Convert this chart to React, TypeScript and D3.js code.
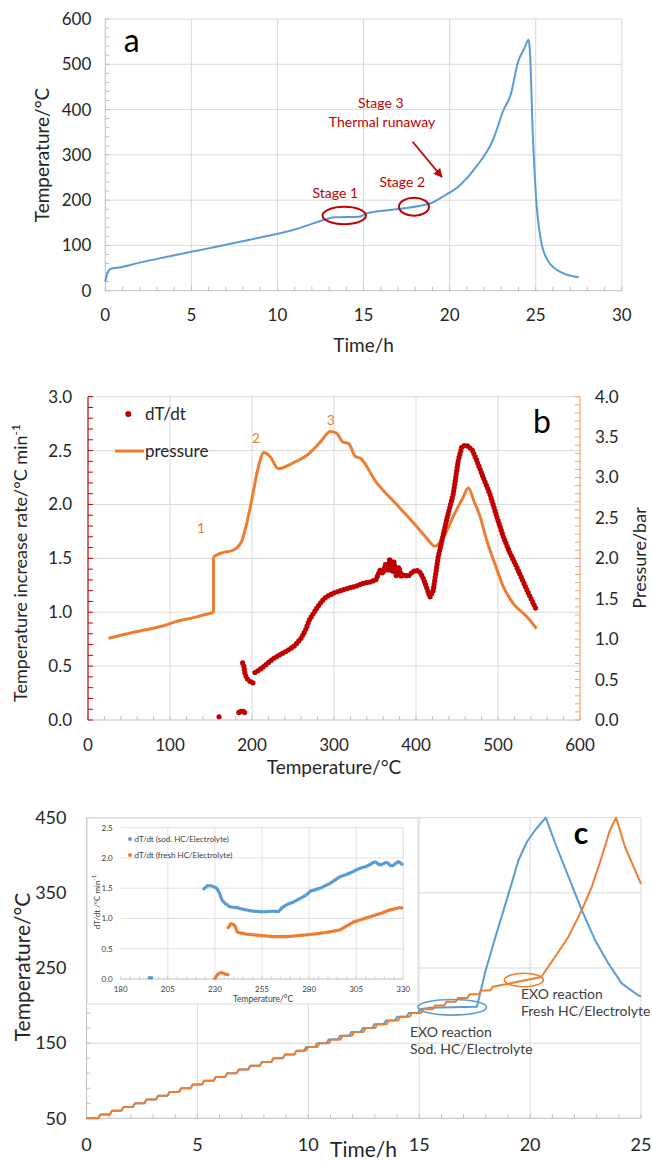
import React from "react";
import * as d3 from "d3";

const FONT = "Lato, 'Noto Sans', sans-serif";
const TXT = "#262626";
const GRID = "#d9d9d9";
const AXIS = "#bfbfbf";
const BLUE = "#5b9bd5";
const ORANGE = "#ed7d31";
const RED = "#c00000";

// ---- panel a: temperature vs time ----
const aTime = [0, 0.1, 0.3, 0.9, 2, 3.6, 6, 8.45, 10.9, 12.7, 13.3, 14.75, 15.2, 16.9, 18.9, 19.6, 20.6, 21.55, 22.52, 23.13, 23.54, 23.98, 24.34, 24.59, 24.66, 24.83, 25.03, 25.3, 25.68, 26.4, 27.5];
const aTemp = [20, 36, 48, 52, 62, 75, 93.5, 113, 134, 156, 162, 163.5, 171, 180, 193, 207.6, 233, 274, 333, 399, 432, 506, 535, 554, 531, 347, 200, 112, 68, 42, 29.5];

// ---- panel b: pressure and dT/dt vs temperature ----
const pressT = [25, 45, 67, 90, 108, 130, 153, 153, 161, 177, 187.4, 193.5, 199.6, 207.7, 214.6, 222, 232, 250, 270, 285, 295.4, 303, 310.7, 318, 326, 332, 351, 377, 402, 413, 423, 433, 445.5, 457.7, 463.8, 471, 478, 486, 496, 506.5, 518.7, 535, 547];
const pressBar = [1.01, 1.06, 1.11, 1.16, 1.22, 1.27, 1.33, 2.02, 2.06, 2.10, 2.21, 2.43, 2.72, 3.13, 3.31, 3.26, 3.11, 3.18, 3.30, 3.46, 3.57, 3.55, 3.44, 3.42, 3.26, 3.24, 2.95, 2.66, 2.38, 2.25, 2.15, 2.25, 2.52, 2.76, 2.87, 2.70, 2.52, 2.23, 1.94, 1.65, 1.44, 1.28, 1.13];

const rateIsoT = [159.8, 184, 186.5, 189, 191];
const rateIsoV = [0.03, 0.07, 0.08, 0.08, 0.07];
const rate1T = [188.6, 190, 191.5, 193.5, 195.5, 199, 203.6];
const rate1V = [0.53, 0.5, 0.43, 0.39, 0.37, 0.35, 0.34];
const rate2T = [203.6, 210, 218, 226, 235, 244.5, 252, 260, 265, 270, 275, 280, 285, 290, 300, 308, 316, 326, 336, 344, 351, 356, 360, 363, 366, 368, 371, 373, 376, 379, 382, 386, 390, 395, 400, 404, 408, 412, 417, 421, 427, 437.4, 445.5, 451.6, 455.7, 459.8, 464, 469, 474, 482, 490, 498, 506.5, 514, 522.8, 535, 547];
const rate2V = [0.44, 0.47, 0.52, 0.57, 0.61, 0.65, 0.69, 0.76, 0.83, 0.93, 0.99, 1.05, 1.1, 1.14, 1.18, 1.2, 1.22, 1.24, 1.27, 1.28, 1.30, 1.39, 1.36, 1.45, 1.38, 1.50, 1.37, 1.47, 1.33, 1.42, 1.33, 1.35, 1.33, 1.37, 1.39, 1.38, 1.33, 1.25, 1.14, 1.2, 1.51, 1.86, 2.10, 2.41, 2.53, 2.55, 2.54, 2.50, 2.41, 2.25, 2.10, 1.90, 1.70, 1.56, 1.42, 1.21, 1.02];

// ---- panel c: staircase heating, sodiated vs fresh HC ----
const cStepTemp = [50, 55, 60, 65, 70, 75, 80, 85, 90, 95, 100, 105, 110, 115, 120, 125, 130, 135, 140, 145, 150, 155, 160, 165, 170, 175, 180, 185, 190, 195, 200, 205, 210, 215, 220, 225];
const cFreshStepTime = [0, 0.53, 1.05, 1.57, 2.09, 2.61, 3.13, 3.65, 4.17, 4.69, 5.21, 5.73, 6.25, 6.77, 7.29, 7.81, 8.33, 8.85, 9.37, 9.89, 10.41, 10.93, 11.45, 11.97, 12.49, 13.01, 13.53, 14.05, 14.57, 15.09, 15.61, 16.13, 16.65, 17.17, 17.69, 18.21];
const cSodStepTime = [0, 0.53, 1.05, 1.57, 2.09, 2.61, 3.13, 3.65, 4.17, 4.69, 5.21, 5.73, 6.25, 6.77, 7.29, 7.81, 8.33, 8.85, 9.37, 9.80, 10.30, 10.82, 11.33, 11.85, 12.36, 12.88, 13.40, 13.91, 14.43, 14.94];
const cFreshTailTime = [18.85, 19.5, 20.5, 21.13, 21.73, 22.33, 22.78, 23.23, 23.6, 23.88, 24.28, 25];
const cFreshTailTemp = [228, 232, 238, 265, 291.6, 327, 358, 398, 433.6, 450, 411, 362];
const cSodTailTime = [15.5, 17.6, 18.0, 18.44, 19.03, 19.48, 19.86, 20.23, 20.71, 21.13, 21.73, 22.33, 22.93, 23.53, 24.13, 24.85, 25];
const cSodTailTemp = [197, 198.5, 247, 291.6, 349, 393.7, 418, 433.6, 450, 416, 371.5, 327, 287, 256, 229.6, 214, 212];

// ---- inset: dT/dt vs temperature ----
const insSodIsoT = [195.2, 197.3];
const insSodIsoV = [0.02, 0.02];
const insSodT = [224.2, 226, 228.3, 231, 232.7, 233.6, 235.4, 238, 241.6, 245.1, 250.4, 255.7, 261, 263.7, 265.4, 268.1, 271.6, 275.2, 278.7, 280.5, 285.8, 291.1, 296.4, 301.7, 307, 310.5, 315, 317.6, 321.2, 323.8, 327.4, 330];
const insSodV = [1.49, 1.54, 1.54, 1.50, 1.40, 1.31, 1.25, 1.19, 1.18, 1.15, 1.12, 1.11, 1.12, 1.11, 1.17, 1.23, 1.27, 1.33, 1.39, 1.45, 1.50, 1.58, 1.69, 1.75, 1.83, 1.86, 1.94, 1.88, 1.93, 1.86, 1.94, 1.88];
const insFreshLowT = [230, 231.8, 233.6, 235.4, 237.1];
const insFreshLowV = [0.01, 0.09, 0.11, 0.08, 0.07];
const insFreshT = [237.1, 238.6, 240.7, 241.9, 246.9, 253.9, 261, 268.1, 275.2, 282.2, 289.3, 296.4, 299, 303.5, 310.5, 317.6, 322.9, 328.2, 330];
const insFreshV = [0.85, 0.92, 0.88, 0.77, 0.74, 0.72, 0.70, 0.70, 0.72, 0.74, 0.77, 0.81, 0.86, 0.94, 1.01, 1.08, 1.14, 1.18, 1.17];

const zip = (xs: number[], ys: number[]) => xs.map((v, i) => [v, ys[i]] as [number, number]);

function stairs(times: number[], temps: number[], tailT: number[], tailY: number[]) {
  const pts: [number, number][] = [[times[0], temps[0]]];
  for (let i = 1; i < times.length; i++) {
    pts.push([times[i], temps[i - 1]]);
    pts.push([times[i] + 0.1, temps[i]]);
  }
  return pts.concat(zip(tailT, tailY));
}

function PanelA() {
  const x = d3.scaleLinear().domain([0, 30]).range([105.3, 621.8]);
  const y = d3.scaleLinear().domain([0, 600]).range([290.7, 19]);
  const line = d3.line<[number, number]>().x(d => x(d[0])).y(d => y(d[1])).curve(d3.curveMonotoneX);
  const [x0, x1] = x.range();
  const [y0, y1] = y.range();
  return (
    <g>
      {d3.range(5, 31, 5).map(v => <line key={"vx" + v} x1={x(v)} x2={x(v)} y1={y0} y2={y1} stroke={GRID} />)}
      {d3.range(100, 601, 100).map(v => <line key={"hy" + v} x1={x0} x2={x1} y1={y(v)} y2={y(v)} stroke={GRID} />)}
      <line x1={x0} x2={x0} y1={y0} y2={y1} stroke={AXIS} />
      <line x1={x0} x2={x1} y1={y0} y2={y0} stroke={AXIS} />
      {d3.range(0, 31, 1).map(v => <line key={"mx" + v} x1={x(v)} x2={x(v)} y1={y0} y2={y0 - 4} stroke={AXIS} />)}
      {d3.range(0, 601, 20).map(v => <line key={"my" + v} x1={x0} x2={x0 + 4} y1={y(v)} y2={y(v)} stroke={AXIS} />)}
      {d3.range(0, 601, 100).map(v => <text key={"ly" + v} x={x0 - 14} y={y(v)} dy="0.35em" textAnchor="end" fontSize={17} fill={TXT}>{v}</text>)}
      {d3.range(0, 31, 5).map(v => <text key={"lx" + v} x={x(v)} y={321} textAnchor="middle" fontSize={17} fill={TXT}>{v}</text>)}
      <text x={363.6} y={352} textAnchor="middle" fontSize={19} fill={TXT}>Time/h</text>
      <text transform="translate(42,155) rotate(-90)" textAnchor="middle" dy="0.35em" fontSize={19} fill={TXT}>Temperature/°C</text>
      <text x={131.6} y={52} textAnchor="middle" fontSize={32} fill="#000">a</text>
      <path d={line(zip(aTime, aTemp)) || ""} fill="none" stroke={BLUE} strokeWidth={2} />
      <ellipse cx={x(13.88)} cy={y(166)} rx={21.7} ry={8.7} fill="none" stroke={RED} strokeWidth={2} />
      <ellipse cx={x(17.93)} cy={y(185.5)} rx={15} ry={9} fill="none" stroke={RED} strokeWidth={2} />
      <text x={x(13.36)} y={y(215)} dy="0.35em" textAnchor="middle" fontSize={14} fill={RED}>Stage 1</text>
      <text x={x(17.25)} y={y(239)} dy="0.35em" textAnchor="middle" fontSize={14} fill={RED}>Stage 2</text>
      <text x={x(16.0)} y={y(414)} dy="0.35em" textAnchor="middle" fontSize={14} fill={RED}>Stage 3</text>
      <text x={x(16.07)} y={y(372)} dy="0.35em" textAnchor="middle" fontSize={14} fill={RED}>Thermal runaway</text>
      <line x1={x(17.85)} y1={y(329)} x2={x(19.55)} y2={y(251)} stroke={RED} strokeWidth={1.8} markerEnd="url(#arrowRed)" />
    </g>
  );
}

function PanelB() {
  const x = d3.scaleLinear().domain([0, 600]).range([88, 580]);
  const yL = d3.scaleLinear().domain([0, 3]).range([720, 396.7]);
  const yR = d3.scaleLinear().domain([0, 4]).range([720, 396.7]);
  const [x0, x1] = x.range();
  const [y0, y1] = yL.range();
  const pLine = d3.line<[number, number]>().x(d => x(d[0])).y(d => yR(d[1])).curve(d3.curveMonotoneX);
  const rLine = d3.line<[number, number]>().x(d => x(d[0])).y(d => yL(d[1]));
  const f1 = d3.format(".1f");
  const dotStyle = { fill: "none", stroke: RED, strokeWidth: 5.2, strokeLinecap: "round" as const, strokeDasharray: "0 3.4" };
  // split pressure trace at the vertical jump (repeated temperature)
  const pts = zip(pressT, pressBar);
  const jump = pts.findIndex((d, i) => i > 0 && d[0] === pts[i - 1][0]);
  const before = pts.slice(0, jump);
  const after = pts.slice(jump);
  return (
    <g>
      {d3.range(100, 501, 100).map(v => <line key={"vx" + v} x1={x(v)} x2={x(v)} y1={y0} y2={y1} stroke={GRID} />)}
      {d3.range(0.5, 3.01, 0.5).map(v => <line key={"hy" + v} x1={x0} x2={x1} y1={yL(v)} y2={yL(v)} stroke={GRID} />)}
      <line x1={x0} x2={x1} y1={y0} y2={y0} stroke={AXIS} />
      {d3.range(0, 601, 20).map(v => <line key={"mx" + v} x1={x(v)} x2={x(v)} y1={y0} y2={y0 - 4} stroke={AXIS} />)}
      <line x1={x0} x2={x0} y1={y0} y2={y1} stroke={RED} strokeWidth={1.2} />
      {d3.range(0, 31, 1).map(v => <line key={"ml" + v} x1={x0} x2={x0 + 5} y1={yL(v / 10)} y2={yL(v / 10)} stroke={RED} />)}
      <line x1={x1} x2={x1} y1={y0} y2={y1} stroke="#f4a46e" strokeWidth={1.2} />
      {d3.range(0, 41, 1).map(v => <line key={"mr" + v} x1={x1} x2={x1 - 5} y1={yR(v / 10)} y2={yR(v / 10)} stroke="#f4a46e" />)}
      {d3.range(0, 7, 1).map(v => <text key={"ll" + v} x={x0 - 16} y={yL(v / 2)} dy="0.35em" textAnchor="end" fontSize={17} fill={TXT}>{f1(v / 2)}</text>)}
      {d3.range(0, 9, 1).map(v => <text key={"lr" + v} x={x1 + 15} y={yR(v / 2)} dy="0.35em" textAnchor="start" fontSize={17} fill={TXT}>{f1(v / 2)}</text>)}
      {d3.range(0, 601, 100).map(v => <text key={"lx" + v} x={x(v)} y={751} textAnchor="middle" fontSize={17} fill={TXT}>{v}</text>)}
      <text x={334} y={774} textAnchor="middle" fontSize={19} fill={TXT}>Temperature/°C</text>
      <text transform="translate(21,563) rotate(-90)" textAnchor="middle" dy="0.35em" fontSize={18} fill={TXT}>
        Temperature increase rate/°C min<tspan dy="-7" fontSize={12}>-1</tspan>
      </text>
      <text transform="translate(640,558) rotate(-90)" textAnchor="middle" dy="0.35em" fontSize={18} fill={TXT}>Pressure/bar</text>
      <path d={(pLine(before) || "") + (pLine([before[before.length - 1], after[0]]) || "") + (pLine(after) || "")}
        fill="none" stroke={ORANGE} strokeWidth={3} strokeLinejoin="round" />
      <path d={rLine(zip(rate1T, rate1V)) || ""} {...dotStyle} />
      <path d={rLine(zip(rate2T, rate2V)) || ""} {...dotStyle} />
      {zip(rateIsoT, rateIsoV).map((d, i) => <circle key={"iso" + i} cx={x(d[0])} cy={yL(d[1])} r={2.6} fill={RED} />)}
      <text x={x(138)} y={yR(2.38)} dy="0.35em" textAnchor="middle" fontSize={14} fill={ORANGE}>1</text>
      <text x={x(205)} y={yR(3.49)} dy="0.35em" textAnchor="middle" fontSize={14} fill={ORANGE}>2</text>
      <text x={x(296)} y={yR(3.71)} dy="0.35em" textAnchor="middle" fontSize={14} fill={ORANGE}>3</text>
      <circle cx={128.3} cy={414} r={3} fill={RED} />
      <text x={145} y={414} dy="0.35em" fontSize={17} fill={TXT}>dT/dt</text>
      <line x1={115} x2={144} y1={451} y2={451} stroke={ORANGE} strokeWidth={3} />
      <text x={145} y={451} dy="0.35em" fontSize={17} fill={TXT}>pressure</text>
      <text x={542} y={433} textAnchor="middle" fontSize={32} fill="#000">b</text>
    </g>
  );
}

function Inset() {
  const x = d3.scaleLinear().domain([180, 330]).range([120.7, 403.3]);
  const y = d3.scaleLinear().domain([0, 2.5]).range([979, 827.7]);
  const [x0, x1] = x.range();
  const [y0, y1] = y.range();
  const line = d3.line<[number, number]>().x(d => x(d[0])).y(d => y(d[1]));
  const f1 = d3.format(".1f");
  const dots = (c: string) => ({ fill: "none", stroke: c, strokeWidth: 3.6, strokeLinecap: "round" as const, strokeDasharray: "0 2.3" });
  return (
    <g>
      <rect x={87} y={818} width={331} height={186} fill="#fff" stroke={GRID} />
      {d3.range(205, 331, 25).map(v => <line key={"vx" + v} x1={x(v)} x2={x(v)} y1={y0} y2={y1} stroke={GRID} strokeWidth={0.8} />)}
      {d3.range(0.5, 2.51, 0.5).map(v => <line key={"hy" + v} x1={x0} x2={x1} y1={y(v)} y2={y(v)} stroke={GRID} strokeWidth={0.8} />)}
      <line x1={x0} x2={x1} y1={y0} y2={y0} stroke={AXIS} />
      {d3.range(180, 331, 5).map(v => <line key={"mx" + v} x1={x(v)} x2={x(v)} y1={y0} y2={y0 - 2.5} stroke={AXIS} strokeWidth={0.8} />)}
      {d3.range(0, 6, 1).map(v => <text key={"ly" + v} x={x0 - 8} y={y(v / 2)} dy="0.35em" textAnchor="end" fontSize={8} fill="#404040">{f1(v / 2)}</text>)}
      {d3.range(180, 331, 25).map(v => <text key={"lx" + v} x={x(v)} y={992} textAnchor="middle" fontSize={8} fill="#404040">{v}</text>)}
      <text x={263} y={1001.5} textAnchor="middle" fontSize={8.5} fill="#404040">Temperature/°C</text>
      <text transform="translate(97,902) rotate(-90)" textAnchor="middle" dy="0.35em" fontSize={8} fill="#404040">
        dT/dt /°C min<tspan dy="-4" fontSize={6}>-1</tspan>
      </text>
      <path d={line(zip(insSodT, insSodV)) || ""} {...dots(BLUE)} />
      <path d={line(zip(insSodIsoT, insSodIsoV)) || ""} {...dots(BLUE)} />
      <path d={line(zip(insFreshLowT, insFreshLowV)) || ""} {...dots(ORANGE)} />
      <path d={line(zip(insFreshT, insFreshV)) || ""} {...dots(ORANGE)} />
      <circle cx={130} cy={839} r={2} fill={BLUE} />
      <text x={134.5} y={839} dy="0.35em" fontSize={8} fill="#404040">dT/dt (sod. HC/Electrolyte)</text>
      <circle cx={130} cy={855} r={2} fill={ORANGE} />
      <text x={134.5} y={855} dy="0.35em" fontSize={8} fill="#404040">dT/dt (fresh HC/Electrolyte)</text>
    </g>
  );
}

function PanelC() {
  const x = d3.scaleLinear().domain([0, 25]).range([86.5, 641]);
  const y = d3.scaleLinear().domain([50, 450]).range([1118.3, 817.7]);
  const [x0, x1] = x.range();
  const [y0, y1] = y.range();
  const line = d3.line<[number, number]>().x(d => x(d[0])).y(d => y(d[1]));
  const sod = stairs(cSodStepTime, cStepTemp.slice(0, cSodStepTime.length), cSodTailTime, cSodTailTemp);
  const fresh = stairs(cFreshStepTime, cStepTemp, cFreshTailTime, cFreshTailTemp);
  return (
    <g>
      {d3.range(5, 26, 5).map(v => <line key={"vx" + v} x1={x(v)} x2={x(v)} y1={y0} y2={y1} stroke={GRID} />)}
      {d3.range(150, 451, 100).map(v => <line key={"hy" + v} x1={x0} x2={x1} y1={y(v)} y2={y(v)} stroke={GRID} />)}
      <line x1={x0} x2={x0} y1={y0} y2={y1} stroke={AXIS} />
      <line x1={x0} x2={x1} y1={y0} y2={y0} stroke={AXIS} />
      {d3.range(0, 26, 1).map(v => <line key={"mx" + v} x1={x(v)} x2={x(v)} y1={y0} y2={y0 - 4} stroke={AXIS} />)}
      {d3.range(70, 451, 20).map(v => <line key={"my" + v} x1={x0} x2={x0 + 4} y1={y(v)} y2={y(v)} stroke={AXIS} />)}
      {d3.range(50, 451, 100).map(v => <text key={"ly" + v} x={x0 - 20} y={y(v)} dy="0.35em" textAnchor="end" fontSize={18} fill={TXT}>{v}</text>)}
      {d3.range(0, 26, 5).map(v => <text key={"lx" + v} x={x(v)} y={1151} textAnchor="middle" fontSize={18} fill={TXT}>{v}</text>)}
      <text x={363.6} y={1157} textAnchor="middle" fontSize={21} fill={TXT}>Time/h</text>
      <text transform="translate(23,967) rotate(-90)" textAnchor="middle" dy="0.35em" fontSize={21} fill={TXT}>Temperature/°C</text>
      <path d={line(sod) || ""} fill="none" stroke={BLUE} strokeWidth={2} strokeLinejoin="round" />
      <path d={line(fresh) || ""} fill="none" stroke={ORANGE} strokeWidth={2} strokeLinejoin="round" />
      <Inset />
      <ellipse cx={x(16.49)} cy={y(197.7)} rx={34.4} ry={7.8} fill="none" stroke={BLUE} strokeWidth={1.6} />
      <ellipse cx={x(19.72)} cy={y(234)} rx={19.5} ry={6.7} fill="none" stroke={ORANGE} strokeWidth={1.6} />
      <text x={410} y={1032} dy="0.35em" fontSize={14} fill="#404040">EXO reaction</text>
      <text x={410} y={1049} dy="0.35em" fontSize={14} fill="#404040">Sod. HC/Electrolyte</text>
      <text x={521} y={994.5} dy="0.35em" fontSize={14} fill="#404040">EXO reaction</text>
      <text x={521} y={1011.5} dy="0.35em" fontSize={14} fill="#404040">Fresh HC/Electrolyte</text>
      <text x={581} y={844} textAnchor="middle" fontSize={30} fontWeight="bold" fill="#000">c</text>
    </g>
  );
}

export default function App() {
  return (
    <svg width={652} height={1163} viewBox="0 0 652 1163"
      style={{ position: "absolute", left: 0, top: 0, background: "#fff", fontFamily: FONT }}>
      <defs>
        <marker id="arrowRed" viewBox="0 0 10 10" refX="9" refY="5" markerWidth="5" markerHeight="5" orient="auto">
          <path d="M0,0 L10,5 L0,10 z" fill={RED} />
        </marker>
      </defs>
      <rect width={652} height={1163} fill="#fff" />
      <PanelA />
      <PanelB />
      <PanelC />
    </svg>
  );
}
